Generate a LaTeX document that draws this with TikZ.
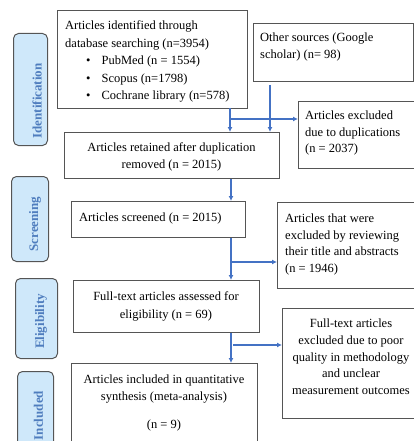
\documentclass[tikz,border=0pt]{standalone}
\usepackage{fontspec}
\setmainfont{Liberation Serif}
\usetikzlibrary{arrows.meta}
\definecolor{arrowblue}{RGB}{68,114,196}
\definecolor{labfill}{RGB}{207,232,250}
\definecolor{labtext}{RGB}{79,125,190}
\definecolor{boxgray}{RGB}{85,85,85}
\begin{document}
\begin{tikzpicture}[x=1pt,y=-1pt,
  box/.style={draw=boxgray, line width=0.9pt, inner sep=0pt, anchor=north west},
  txt/.style={inner sep=0pt, align=left, font=\fontsize{12.5pt}{17pt}\selectfont},
  stage/.style={draw=boxgray, fill=labfill, line width=1pt, rounded corners=5pt, inner sep=0pt, anchor=north west},
  stagetxt/.style={rotate=90, text=labtext, inner sep=0pt, font=\fontsize{13pt}{15pt}\selectfont\bfseries},
  arr/.style={draw=arrowblue, line width=1.3pt, -{Latex[length=5pt,width=5pt]}},
  ln/.style={draw=arrowblue, line width=1.3pt}]
\useasboundingbox (0,0) rectangle (414,441);

% stage labels
\node[stage, minimum width=34pt, minimum height=112pt] (sI) at (13,33) {};
\node[stagetxt] (tI) at (37,101) {Identification};
\node[stage, minimum width=37pt, minimum height=85pt] (sS) at (11,176) {};
\node[stagetxt] (tS) at (35,224) {Screening};
\node[stage, minimum width=42pt, minimum height=80pt] (sE) at (15,278) {};
\node[stagetxt] (tE) at (41,321.5) {Eligibility};
\node[stage, minimum width=36pt, minimum height=80pt] (sN) at (17,371) {};
\node[stagetxt] (tN) at (38.5,415.5) {Included};

% boxes
\node[box, minimum width=190pt, minimum height=98pt] (A) at (57,10) {};
\node[box, minimum width=159.5pt, minimum height=58pt] (B) at (253,23) {};
\node[box, minimum width=130pt, minimum height=67pt] (C) at (298,101) {};
\node[box, minimum width=215pt, minimum height=46pt] (D) at (64,132) {};
\node[box, minimum width=174pt, minimum height=36pt] (E) at (71,201) {};
\node[box, minimum width=140pt, minimum height=86pt] (F) at (277,202) {};
\node[box, minimum width=186pt, minimum height=52pt] (G) at (73,280) {};
\node[box, minimum width=140pt, minimum height=110pt] (H) at (282,308) {};
\node[box, minimum width=186pt, minimum height=90pt] (I) at (71,363) {};

% texts
\node[txt, anchor=north west, font=\fontsize{12.5pt}{17.5pt}\selectfont] (tA) at (65,20.7)
  {Articles identified through\\database searching (n=3954)\\
   \hspace*{21pt}\textbullet\hspace{11pt}PubMed (n = 1554)\\
   \hspace*{21pt}\textbullet\hspace{11pt}Scopus (n=1798)\\
   \hspace*{21pt}\textbullet\hspace{11pt}Cochrane library (n=578)};
\node[txt, anchor=north west] (tB) at (260,33) {Other sources (Google\\scholar) (n= 98)};
\node[txt, anchor=north west, font=\fontsize{12.5pt}{16.5pt}\selectfont] (tC) at (305,111) {Articles excluded\\due to duplications\\(n = 2037)};
\node[txt, anchor=north, align=center] (tD) at (171.5,142.5) {Articles retained after duplication\\removed (n = 2015)};
\node[txt, anchor=north west] (tE2) at (79,212.7) {Articles screened (n = 2015)};
\node[txt, anchor=north west, font=\fontsize{12.5pt}{16.5pt}\selectfont] (tF) at (285,214) {Articles that were\\excluded by reviewing\\their title and abstracts\\(n = 1946)};
\node[txt, anchor=north, align=center, font=\fontsize{12.5pt}{18pt}\selectfont] (tG) at (166,291.7) {Full-text articles assessed for\\eligibility (n = 69)};
\node[txt, anchor=north, align=center, font=\fontsize{12.5pt}{16.7pt}\selectfont] (tH) at (351,319) {Full-text articles\\excluded due to poor\\quality in methodology\\and unclear\\measurement outcomes};
\node[txt, anchor=north, align=center] (tI2) at (164,374.3) {Articles included in quantitative\\synthesis (meta-analysis)\\[11pt](n = 9)};

% connectors
\coordinate (cA) at (230,108);
\coordinate (cB) at (270,85);
\coordinate (mx) at (231,0);
\coordinate (j1) at (231,119);
\coordinate (j2) at (231,262);
\coordinate (j3) at (233,345);
\draw[arr] (cA) -- (cA |- D.north);
\draw[arr] (cB) -- (cB |- D.north);
\draw[arr] (j1) -- (j1 -| C.west);
\draw[arr] (D.south -| mx) -- (E.north -| mx);
\draw[arr] (E.south -| mx) -- (G.north -| mx);
\draw[arr] (j2) -- (j2 -| F.west);
\draw[arr] (G.south -| mx) -- (I.north -| mx);
\draw[arr] (j3) -- (j3 -| H.west);
\end{tikzpicture}
\end{document}
